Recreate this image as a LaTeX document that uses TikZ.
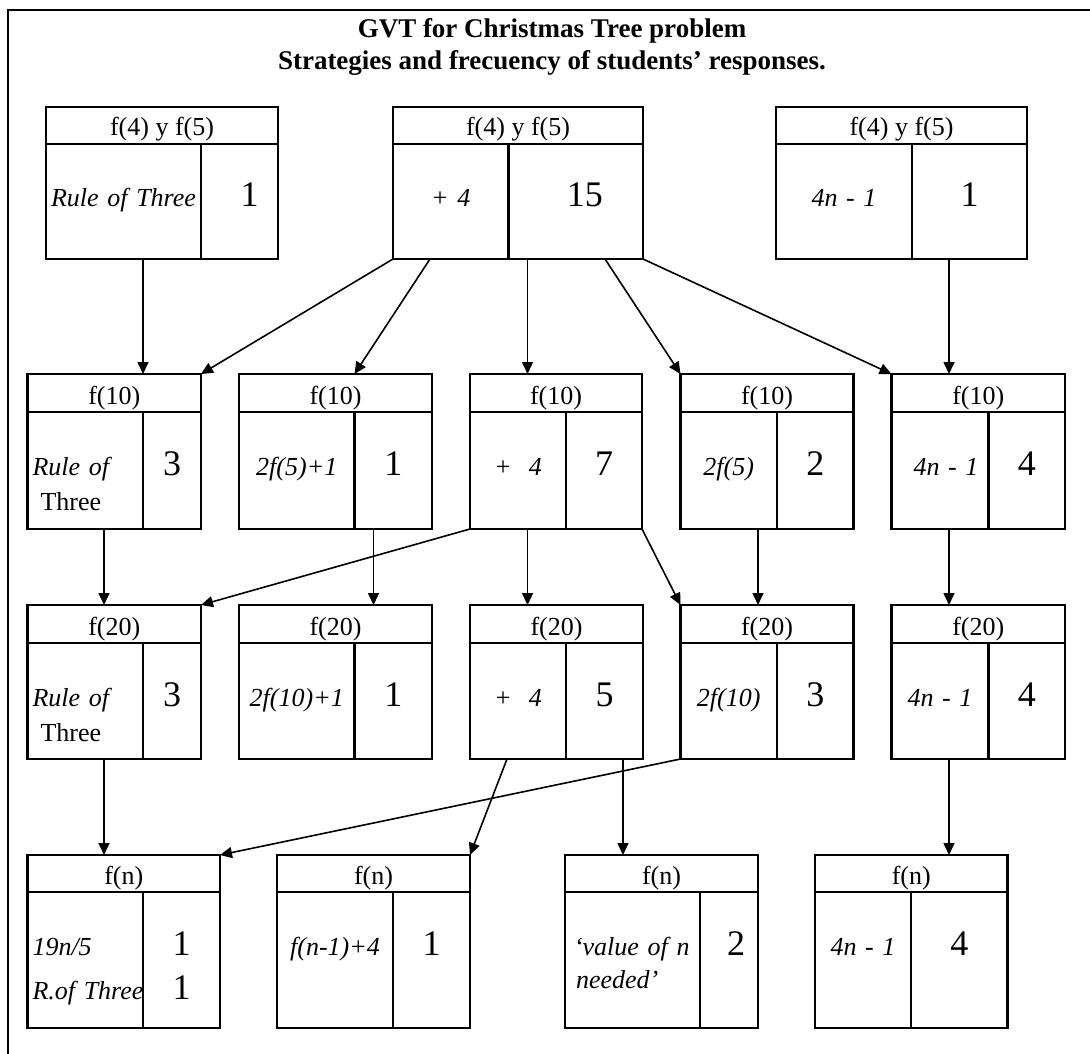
\documentclass[tikz,border=0pt]{standalone}
\usepackage{fontspec}
\setmainfont{Liberation Serif}
\usetikzlibrary{arrows.meta,fit}

\tikzset{
  gbox/.style={draw, line width=2.3pt, inner sep=0pt, outer sep=0pt},
  cellline/.style={line width=2.3pt},
  head/.style={font=\fontsize{26}{31}\selectfont, inner sep=0pt},
  lab/.style={font=\fontsize{26}{31}\selectfont\itshape, inner sep=0pt},
  num/.style={font=\fontsize{36}{44}\selectfont, inner sep=0pt, align=center},
  arr/.style={-{Triangle[length=12pt,width=11pt]}, line width=1.6pt},
  title/.style={font=\fontsize{27}{32}\selectfont\bfseries, align=center, inner sep=0pt}
}

% box: [align] name, left, split, right, header, strategy, count
% (row heights come from \yt, \yh, \yb)
\newcommand{\gvtbox}[8][center]{%
  \node[gbox, fit={(#3,\yt) (#5,\yb)}] (#2) {};
  \draw[cellline] (#3,\yh) -- (#5,\yh) (#4,\yh) -- (#4,\yb);
  \coordinate (#2-s) at (#4,\yt);
  \node[head, anchor=base] (#2-h) at ({(#3+#5)/2},\yh-8) {#6};
  \pgfmathsetmacro{\labw}{#4-#3}
  \pgfmathsetmacro{\numw}{#5-#4}
  \node[lab, align=#1, text width=\labw pt, anchor=base] (#2-l) at ({(#3+#4)/2},\yh+63) {#7};
  \node[num, text width=\numw pt, anchor=base] (#2-n) at ({(#4+#5)/2},\yh+63) {#8};
}

\begin{document}
\begin{tikzpicture}[x=1pt, y=-1pt]
  \path[use as bounding box] (0,0) rectangle (1090,1054);

  % Frame and title
  \draw[line width=2.3pt] (8,10) rectangle (1120,1080);
  \node[title, anchor=base] (title) at (552,70) {GVT for Christmas Tree problem\\Strategies and frecuency of students’ responses.};

  % Row 1: f(4) y f(5)
  \def\yt{107}\def\yh{144}\def\yb{259}
  \gvtbox{a1}{46}{201}{278}{f(4) y f(5)}{Rule~of~Three}{\hspace*{20pt}1}
  \gvtbox{a2}{393}{508.5}{643}{f(4) y f(5)}{+~4}{\hspace*{18pt}15}
  \gvtbox{a3}{776}{912}{1027}{f(4) y f(5)}{4n~-~1}{1}

  % Row 2: f(10)
  \def\yt{374}\def\yh{412}\def\yb{529}
  \gvtbox[left]{b1}{27.5}{143}{201}{f(10)}{\hspace*{5pt}Rule~of\\[4pt]\hspace*{13pt}\upshape Three}{3}
  \gvtbox{b2}{239}{354.5}{432}{f(10)}{2f(5)+1\hspace*{12pt}}{1}
  \gvtbox{b3}{470}{566}{642}{f(10)}{+\ \ 4\hspace*{18pt}}{7\hspace*{20pt}}
  \gvtbox{b4}{680.5}{777}{853.5}{f(10)}{2f(5)}{2}
  \gvtbox{b5}{891.5}{988.5}{1065}{f(10)}{\hspace*{12pt}4n~-~1}{4}

  % Row 3: f(20)
  \def\yt{605}\def\yh{643}\def\yb{759}
  \gvtbox[left]{c1}{27.5}{143}{201}{f(20)}{\hspace*{5pt}Rule~of\\[4pt]\hspace*{13pt}\upshape Three}{3}
  \gvtbox{c2}{239}{354.5}{432}{f(20)}{2f(10)+1\hspace*{12pt}}{1}
  \gvtbox{c3}{470}{566}{643}{f(20)}{+\ \ 4\hspace*{30pt}}{5}
  \gvtbox{c4}{680.5}{777}{853.5}{f(20)}{2f(10)}{3}
  \gvtbox{c5}{891.5}{988.5}{1065}{f(20)}{4n~-~1\hspace*{14pt}}{4}

  % Row 4: f(n)
  \def\yt{855}\def\yh{892}\def\yb{1028}
  \gvtbox[left]{d1}{27.5}{143}{220}{f(n)}{\hspace*{5pt}19n/5\\[13pt]\hspace*{5pt}R.of~Three}{1\\1}
  \gvtbox{d2}{277}{393}{470}{f(n)}{f(n-1)+4}{1}
  \gvtbox[left]{d3}{565}{700}{758}{f(n)}{\hspace*{9pt}‘value~of~n\\[2pt]\hspace*{11pt}needed’}{\hspace*{14pt}2}
  \gvtbox{d4}{815}{911}{1007.5}{f(n)}{4n~-~1}{4}

  % Connectors
  \coordinate (xa) at (104,0);
  \coordinate (xb) at (143,0);
  \coordinate (xc) at (373.5,0);
  \coordinate (xd) at (527.5,0);
  \coordinate (xe) at (623,0);
  \coordinate (xf) at (758,0);
  \coordinate (xg) at (949,0);

  \draw[arr] (a1.south -| xb) -- (b1.north -| xb);
  \draw[arr] (a2.south west) -- (b1.north east);
  \draw[arr] ([xshift=37pt]a2.south west) -- (b2-s);
  \draw[arr] (a2.south -| xd) -- (b3.north -| xd);
  \draw[arr] ([xshift=-38pt]a2.south east) -- (b4.north west);
  \draw[arr] (a2.south east) -- (b5.north west);
  \draw[arr] (a3.south -| xg) -- (b5.north -| xg);

  \draw[arr] (b1.south -| xa) -- (c1.north -| xa);
  \draw[arr] (b2.south -| xc) -- (c2.north -| xc);
  \draw[arr] (b3.south west) -- (c1.north east);
  \draw[arr] (b3.south -| xd) -- (c3.north -| xd);
  \draw[arr] (b3.south east) -- (c4.north west);
  \draw[arr] (b4.south -| xf) -- (c4.north -| xf);
  \draw[arr] (b5.south -| xg) -- (c5.north -| xg);

  \draw[arr] (c1.south -| xa) -- (d1.north -| xa);
  \draw[arr] ([xshift=37pt]c3.south west) -- (d2.north east);
  \draw[arr] (c3.south -| xe) -- (d3.north -| xe);
  \draw[arr] (c4.south west) -- (d1.north east);
  \draw[arr] (c5.south -| xg) -- (d4.north -| xg);
\end{tikzpicture}
\end{document}
